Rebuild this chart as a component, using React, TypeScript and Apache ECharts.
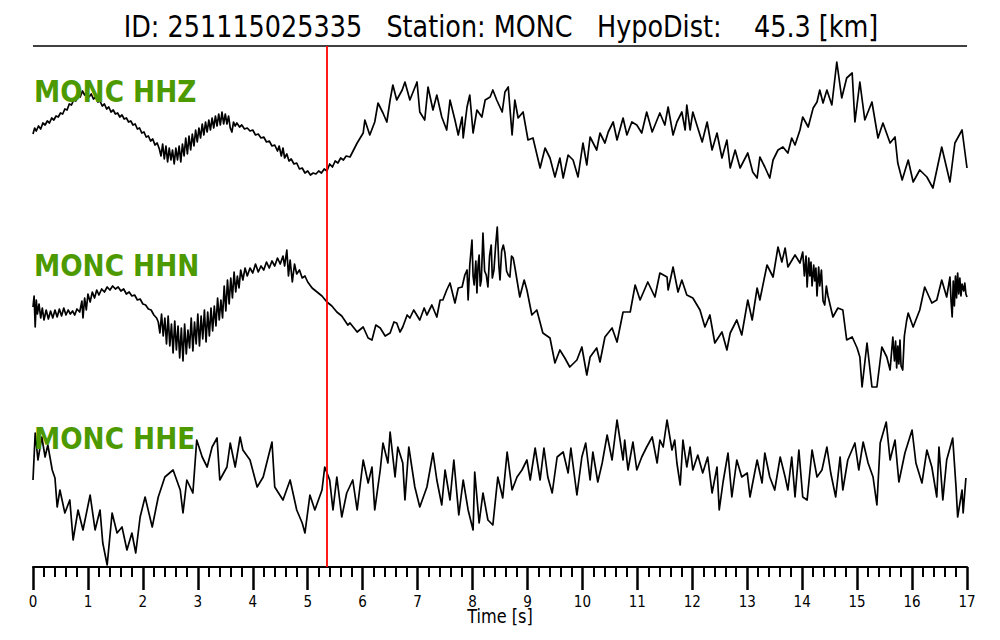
import React, { useEffect, useRef } from "react";
import * as echarts from "echarts";

const TITLE = "ID: 251115025335   Station: MONC   HypoDist:    45.3 [km]";
const STATION_LABELS = ["MONC HHZ", "MONC HHN", "MONC HHE"];
const X_NAME = "Time [s]";
const T_MIN = 0;
const T_MAX = 17;
const PICK_TIME = 5.35;

const HHZ: [number, number][] = [
  [0.00,-8],[0.03,-2],[0.06,-5],[0.10,0],[0.14,-3],[0.18,3],[0.22,1],[0.26,5],[0.30,3],[0.34,8],[0.38,6],[0.42,10],[0.46,9],[0.50,13],[0.54,12],[0.58,17],[0.62,16],[0.66,22],[0.70,21],[0.74,26],[0.78,25],[0.82,30],[0.86,29],[0.90,35],[0.94,31],[0.98,33],[1.02,29],[1.06,32],[1.10,27],[1.14,29],[1.18,24],[1.22,25],[1.26,20],[1.30,22],[1.34,17],[1.38,19],[1.42,14],[1.46,16],[1.50,12],[1.54,13],[1.58,9],[1.62,11],[1.66,7],[1.70,8],[1.74,4],[1.78,5],[1.82,1],[1.86,2],[1.90,-3],[1.94,-2],[1.98,-7],[2.02,-6],[2.06,-11],[2.10,-10],[2.14,-15],[2.18,-13],[2.22,-19],[2.26,-17],[2.30,-23],
  [2.33,-30],[2.36,-18],[2.39,-33],[2.42,-20],[2.45,-36],[2.48,-22],[2.51,-34],[2.54,-24],[2.57,-38],[2.60,-22],[2.63,-34],[2.66,-20],[2.69,-36],[2.72,-18],[2.75,-30],[2.78,-12],[2.81,-28],[2.84,-10],[2.87,-24],[2.90,-8],[2.93,-20],[2.96,-4],[2.99,-16],[3.02,-2],[3.05,-12],[3.08,2],[3.11,-9],[3.14,4],[3.17,-6],[3.20,6],[3.23,-4],[3.26,8],[3.29,-2],[3.32,10],[3.35,0],[3.38,12],[3.41,1],[3.44,14],[3.47,2],[3.50,12],[3.53,2],[3.56,10],[3.59,-2],[3.62,-6],[3.65,4],[3.68,0],[3.71,3],
  [3.76,-1],[3.80,1],[3.85,-3],[3.90,-2],[3.95,-5],[4.00,-4],[4.05,-9],[4.10,-8],[4.15,-12],[4.20,-11],[4.25,-16],[4.30,-15],[4.35,-20],[4.40,-19],[4.45,-25],[4.48,-20],[4.52,-30],[4.55,-22],[4.58,-32],[4.62,-28],[4.66,-35],[4.70,-33],[4.75,-38],[4.80,-37],[4.85,-43],[4.90,-42],[4.95,-47],[5.00,-45],[5.05,-49],[5.10,-47],[5.15,-48],[5.20,-45],[5.25,-47],[5.30,-43],[5.35,-45],[5.40,-38],[5.45,-41],[5.50,-35],[5.55,-37],[5.60,-32],[5.65,-34],[5.70,-30],[5.77,-31],
  [5.90,-17],[6.01,-7],[6.04,6],[6.13,-9],[6.22,4],[6.28,23],[6.37,13],[6.44,4],[6.50,26],[6.55,41],[6.62,26],[6.72,36],[6.77,44],[6.86,26],[6.99,44],[7.04,14],[7.13,6],[7.19,39],[7.28,16],[7.35,31],[7.44,9],[7.53,-4],[7.59,26],[7.68,6],[7.74,-9],[7.81,9],[7.83,-12],[7.90,19],[7.95,31],[8.01,-7],[8.08,16],[8.17,9],[8.23,26],[8.32,29],[8.37,36],[8.44,26],[8.54,14],[8.59,34],[8.65,39],[8.72,-9],[8.77,26],[8.83,8],[8.92,14],[9.01,-14],[9.10,-12],[9.23,-42],[9.32,-22],[9.41,-32],[9.50,-51],[9.59,-32],[9.65,-52],[9.74,-29],[9.83,-34],[9.92,-51],[10.01,-17],[10.08,-39],[10.14,-11],[10.26,-24],[10.32,-7],[10.41,-17],[10.47,-6],[10.56,4],[10.63,-14],[10.74,8],[10.81,-9],[10.90,4],[10.99,1],[11.08,-7],[11.17,14],[11.27,-6],[11.38,9],
  [11.41,13],[11.50,1],[11.56,19],[11.65,-9],[11.72,4],[11.81,14],[11.87,-4],[11.90,21],[11.96,-4],[12.01,14],[12.10,-2],[12.18,-16],[12.27,4],[12.36,-24],[12.45,-7],[12.54,-32],[12.63,-14],[12.69,-42],[12.78,-24],[12.87,-42],[13.01,-27],[13.10,-46],[13.18,-52],[13.23,-31],[13.32,-41],[13.41,-52],[13.47,-34],[13.56,-24],[13.65,-21],[13.74,-27],[13.81,-12],[13.87,-19],[13.96,-4],[14.01,9],[14.11,-1],[14.20,18],[14.27,24],[14.32,36],[14.38,23],[14.45,36],[14.54,21],[14.63,64],[14.72,28],[14.81,48],[14.91,53],[14.96,4],[15.05,44],[15.14,6],[15.27,24],[15.38,-12],[15.47,3],[15.60,-17],[15.69,-11],[15.74,-37],[15.82,-54],[15.93,-34],[16.02,-56],[16.14,-44],[16.27,-51],[16.38,-62],[16.54,-21],[16.69,-56],[16.78,-17],[16.91,-4],[17.00,-42],
];

const HHN: [number, number][] = [
  [0.00,-1],[0.02,10],[0.04,-21],[0.06,6],[0.08,-8],[0.11,2],[0.14,-12],[0.17,-2],[0.20,-14],[0.24,-4],[0.28,-13],[0.32,-5],[0.36,-12],[0.40,-4],[0.44,-11],[0.48,-3],[0.52,-10],[0.56,-2],[0.60,-9],[0.64,-4],[0.68,-8],[0.72,-5],[0.76,-9],[0.80,-3],[0.85,-6],[0.89,5],[0.91,-12],[0.94,8],[0.97,-4],[1.00,12],[1.04,4],[1.08,14],[1.12,8],[1.16,16],[1.20,11],[1.25,17],[1.30,14],[1.35,19],[1.40,16],[1.45,20],[1.50,17],[1.55,19],[1.60,15],[1.65,17],[1.70,12],[1.75,14],[1.80,10],[1.85,11],[1.90,6],[1.95,7],[2.00,2],[2.05,1],[2.10,-3],[2.15,-4],[2.20,-9],[2.25,-12],[2.28,-16],
  [2.31,-27],[2.34,-8],[2.37,-30],[2.40,-12],[2.43,-38],[2.46,-10],[2.49,-40],[2.52,-18],[2.55,-47],[2.58,-15],[2.61,-44],[2.64,-20],[2.67,-52],[2.70,-22],[2.73,-55],[2.76,-18],[2.79,-48],[2.82,-24],[2.85,-42],[2.88,-12],[2.91,-45],[2.94,-16],[2.97,-38],[3.00,-8],[3.03,-40],[3.06,-10],[3.09,-33],[3.12,-4],[3.15,-36],[3.18,-6],[3.21,-30],[3.24,-2],[3.27,-25],[3.30,0],[3.33,-20],[3.36,8],[3.39,-14],[3.42,6],[3.45,-12],[3.48,20],[3.51,-5],[3.54,26],[3.57,2],[3.60,28],[3.63,8],[3.66,34],[3.69,14],[3.72,30],[3.75,18],[3.78,36],[3.82,26],[3.86,38],
  [3.90,30],[3.95,38],[4.00,33],[4.05,42],[4.10,34],[4.15,40],[4.20,36],[4.25,44],[4.30,38],[4.35,45],[4.40,40],[4.45,48],[4.50,42],[4.55,50],[4.58,40],[4.62,56],[4.65,30],[4.68,46],[4.72,24],[4.76,42],[4.80,32],[4.85,36],[4.90,28],[4.95,30],[5.00,24],[5.08,18],[5.17,14],[5.26,10],[5.35,4],[5.44,0],[5.53,-6],[5.62,-10],[5.73,-19],
  [5.77,-17],[5.90,-26],[6.01,-21],[6.10,-32],[6.17,-34],[6.24,-19],[6.32,-22],[6.41,-30],[6.50,-27],[6.57,-16],[6.62,-17],[6.68,-26],[6.73,-21],[6.81,-9],[6.86,-12],[6.93,-4],[7.04,-14],[7.12,-2],[7.17,-9],[7.26,1],[7.35,-11],[7.41,6],[7.46,6],[7.53,16],[7.59,23],[7.68,3],[7.74,18],[7.81,19],[7.86,31],[7.90,36],[7.92,6],[7.95,41],[7.99,66],[8.01,30],[8.03,21],[8.06,45],[8.08,13],[8.10,40],[8.12,51],[8.14,20],[8.16,26],[8.19,73],[8.22,35],[8.25,31],[8.28,19],[8.31,50],[8.34,61],[8.36,28],[8.39,36],[8.42,60],[8.45,79],[8.48,40],[8.50,26],[8.53,55],[8.56,61],[8.59,53],[8.62,35],[8.65,31],[8.68,29],[8.71,50],[8.74,48],[8.77,39],[8.86,9],[8.94,26],[8.99,16],[9.08,-9],[9.17,-4],[9.28,-27],[9.41,-32],[9.50,-57],[9.59,-44],[9.68,-52],[9.77,-61],[9.90,-54],[9.99,-41],[10.08,-69],[10.14,-51],[10.26,-42],[10.32,-56],[10.41,-31],[10.54,-22],[10.63,-36],[10.74,-6],[10.87,-6],[10.96,21],[11.05,6],[11.19,24],[11.32,9],[11.41,33],
  [11.54,29],[11.56,16],[11.65,39],[11.74,14],[11.81,26],[11.90,11],[12.01,8],[12.14,-4],[12.23,-21],[12.32,-9],[12.41,-37],[12.54,-26],[12.63,-44],[12.69,-27],[12.81,-14],[12.90,-29],[13.01,6],[13.09,-14],[13.18,18],[13.23,6],[13.36,41],[13.47,29],[13.56,59],[13.63,44],[13.69,58],[13.74,39],[13.87,51],[13.96,43],[14.01,54],[14.04,30],[14.07,50],[14.09,19],[14.12,48],[14.14,30],[14.16,44],[14.18,20],[14.21,41],[14.23,25],[14.25,38],[14.27,10],[14.30,39],[14.32,20],[14.35,36],[14.38,5],[14.41,1],[14.44,20],[14.47,10],[14.56,-11],[14.65,-2],[14.74,-4],[14.81,-34],[14.91,-31],[15.00,-42],[15.05,-51],[15.09,-81],[15.18,-37],[15.27,-81],[15.36,-81],[15.45,-41],[15.54,-51],[15.60,-64],[15.65,-31],[15.68,-55],[15.70,-35],[15.72,-62],[15.74,-40],[15.76,-58],[15.78,-34],[15.80,-60],[15.83,-64],[15.86,-30],[15.90,-15],[15.93,-7],[16.02,-21],[16.14,-4],[16.23,19],[16.36,3],[16.45,6],[16.54,26],[16.63,9],[16.69,29],[16.71,5],[16.73,-11],[16.75,25],[16.77,0],[16.79,30],[16.81,8],[16.83,33],[16.85,12],[16.87,28],[16.89,10],[16.91,22],[16.94,15],[16.96,23],[16.98,12],[17.00,9],
];

const HHE: [number, number][] = [
  [0.00,8],[0.04,55],[0.09,28],[0.16,51],[0.22,31],[0.27,43],[0.35,18],[0.40,10],[0.44,-19],[0.49,-2],[0.58,-25],[0.67,-12],[0.73,-52],[0.82,-22],[0.91,-42],[1.04,-7],[1.13,-42],[1.22,-22],[1.27,-55],[1.35,-77],[1.44,-25],[1.53,-45],[1.62,-39],[1.71,-62],[1.80,-45],[1.87,-65],[1.95,-29],[2.04,-9],[2.17,-39],[2.28,-9],[2.40,11],[2.55,18],[2.68,-2],[2.73,-25],[2.80,8],[2.91,-5],[2.98,48],[3.08,31],[3.17,21],[3.26,41],[3.35,50],[3.40,8],[3.53,21],[3.59,45],[3.68,21],[3.77,51],[3.82,38],[3.95,28],[4.08,1],[4.19,11],[4.35,46],[4.40,1],[4.55,-12],[4.68,8],[4.80,-22],[4.90,-35],[4.95,-45],[5.04,-7],[5.13,-22],[5.26,-2],[5.31,21],[5.40,8],
  [5.46,-22],[5.53,11],[5.62,-29],[5.71,-5],[5.82,8],[5.90,-22],[6.01,28],[6.10,5],[6.17,21],[6.22,-22],[6.32,18],[6.37,45],[6.46,25],[6.50,56],[6.59,11],[6.64,41],[6.73,25],[6.77,-12],[6.84,41],[6.95,1],[7.04,-19],[7.17,1],[7.28,35],[7.35,8],[7.44,-17],[7.50,18],[7.59,-12],[7.66,28],[7.75,-27],[7.83,8],[7.92,-22],[8.01,-42],[8.04,16],[8.12,-35],[8.19,-5],[8.28,-32],[8.37,-37],[8.46,11],[8.55,-10],[8.63,36],[8.72,-2],[8.81,11],[8.90,18],[8.99,28],[9.05,8],[9.14,40],[9.23,8],[9.30,40],[9.37,11],[9.45,-5],[9.54,31],[9.65,36],[9.74,15],[9.79,40],[9.90,-7],[9.99,31],[10.06,45],[10.14,8],[10.19,36],[10.28,6],[10.36,25],[10.45,53],[10.54,28],[10.63,68],[10.74,28],[10.77,48],[10.83,18],[10.92,46],[10.99,18],[11.08,31],[11.17,41],[11.27,51],[11.36,25],
  [11.41,48],[11.47,41],[11.54,68],[11.63,38],[11.68,48],[11.72,25],[11.78,3],[11.83,48],[11.90,21],[11.96,41],[12.01,18],[12.10,33],[12.19,15],[12.28,31],[12.36,-5],[12.45,21],[12.49,-22],[12.56,6],[12.65,35],[12.72,-9],[12.81,28],[12.90,11],[13.00,15],[13.05,-9],[13.18,28],[13.27,5],[13.32,35],[13.41,11],[13.50,-2],[13.60,31],[13.69,11],[13.74,-2],[13.81,31],[13.87,-9],[13.94,38],[14.01,-9],[14.09,-12],[14.18,38],[14.27,11],[14.36,18],[14.45,41],[14.52,15],[14.61,-9],[14.69,31],[14.74,-2],[14.83,28],[14.96,45],[15.03,18],[15.11,46],[15.20,25],[15.29,11],[15.36,-17],[15.42,45],[15.53,66],[15.60,28],[15.69,48],[15.76,6],[15.87,35],[16.00,58],[16.07,25],[16.18,5],[16.27,38],[16.36,21],[16.45,-9],[16.49,41],[16.56,-12],[16.63,28],[16.74,50],[16.80,1],[16.83,-29],[16.91,-2],[16.93,-25],[16.98,10],
];

const TRACES = [HHZ, HHN, HHE];
const Y_RANGES: [number, number][] = [[-70, 70], [-90, 90], [-79, 78]];

const GREEN = "#4c9900";
const PICK_COLOR = "#ff0000";
const FONT = "'DejaVu Sans', 'Noto Sans', sans-serif";

export default function App() {
  const ref = useRef<HTMLDivElement>(null);
  useEffect(() => {
    document.body.style.margin = "0";
    if (!ref.current) return;
    const chart = echarts.init(ref.current, undefined, { renderer: "svg" });
    const grids = [
      { left: 33, right: 33, top: 56, height: 140 },
      { left: 33, right: 33, top: 216, height: 180 },
      { left: 33, right: 33, top: 410, height: 157 },
      { left: 33, right: 33, top: 46, bottom: 73 },
    ];
    const xAxes: any[] = grids.map((_, i) => ({
      type: "value",
      gridIndex: i,
      min: T_MIN,
      max: T_MAX,
      show: i === 2,
      interval: 1,
      axisLine: { show: true, onZero: false, lineStyle: { color: "#000", width: 2 } },
      axisTick: { show: true, length: 23, lineStyle: { color: "#000", width: 2.5 } },
      minorTick: { show: true, splitNumber: 5, length: 10, lineStyle: { color: "#000", width: 2 } },
      splitLine: { show: false },
      minorSplitLine: { show: false },
      axisLabel: { show: true, color: "#000", fontSize: 15, margin: 27, fontFamily: "'DejaVu Sans Condensed', 'DejaVu Sans', sans-serif" },
    }));
    const yAxes: any[] = grids.map((_, i) => ({
      type: "value",
      gridIndex: i,
      show: false,
      min: i < 3 ? Y_RANGES[i][0] : 0,
      max: i < 3 ? Y_RANGES[i][1] : 1,
    }));
    const series: any[] = TRACES.map((d, i) => ({
      type: "line",
      name: STATION_LABELS[i],
      xAxisIndex: i,
      yAxisIndex: i,
      data: d,
      showSymbol: false,
      symbol: "none",
      smooth: false,
      lineStyle: { color: "#000", width: 1.7, join: "round" },
      silent: true,
    }));
    series.push({
      type: "line",
      xAxisIndex: 3,
      yAxisIndex: 3,
      data: [],
      silent: true,
      color: PICK_COLOR,
      markLine: {
        silent: true,
        symbol: ["none", "none"],
        label: { show: false },
        itemStyle: { color: PICK_COLOR },
        lineStyle: { color: PICK_COLOR, width: 1.8, type: "solid", opacity: 1 },
        emphasis: { disabled: true },
        data: [{ xAxis: PICK_TIME }],
      },
    });
    const labelY = [91, 265, 438];
    const graphic: any[] = [
      {
        type: "text",
        x: 501,
        y: 27,
        scaleX: 0.85,
        style: { text: TITLE, font: `30px ${FONT}`, fill: "#000", textAlign: "center", textVerticalAlign: "middle" },
      },
      {
        type: "line",
        shape: { x1: 33, y1: 46, x2: 967, y2: 46 },
        style: { stroke: "#000", lineWidth: 1.5 },
      },
      {
        type: "text",
        x: 500,
        y: 617,
        scaleX: 0.85,
        style: { text: X_NAME, font: `19px ${FONT}`, fill: "#000", textAlign: "center", textVerticalAlign: "middle" },
      },
      ...STATION_LABELS.map((s, i) => ({
        type: "text",
        x: 34,
        y: labelY[i],
        scaleX: 0.85,
        z: 10,
        style: { text: s, font: `bold 31px ${FONT}`, fill: GREEN, textAlign: "left", textVerticalAlign: "middle" },
      })),
    ];
    chart.setOption({
      animation: false,
      backgroundColor: "#fff",
      grid: grids,
      xAxis: xAxes,
      yAxis: yAxes,
      series,
      graphic,
    });
    return () => chart.dispose();
  }, []);
  return <div ref={ref} style={{ width: 1000, height: 640 }} />;
}
